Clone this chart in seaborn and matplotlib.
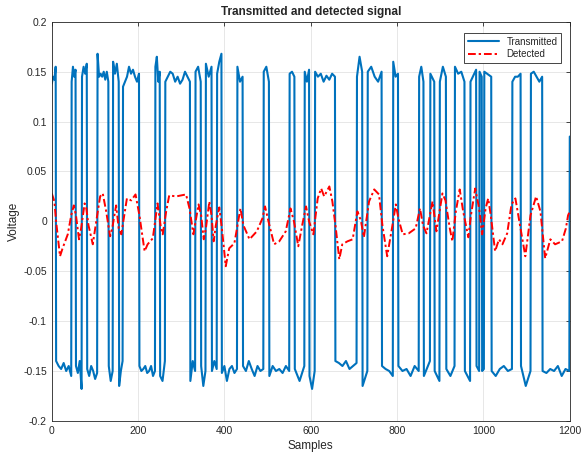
import numpy as np
import pandas as pd
import matplotlib
matplotlib.use('Agg')
import matplotlib.pyplot as plt
import seaborn as sns

# Transmitted signal: segment edges (samples), alternating high / low, starting high
seg_edges = [0, 10, 46, 56, 70, 82, 106, 132, 142, 156,
             165, 203, 240, 251, 263, 321, 333, 346, 357, 371,
             383, 394, 430, 443, 491, 504, 551, 563, 586, 597,
             610, 657, 707, 720, 732, 765, 791, 803, 851, 862,
             877, 887, 899, 914, 934, 957, 970, 984, 991, 997,
             1002, 1019, 1067, 1087, 1110, 1137, 1200]

# voltage readings inside each segment
seg_levels = [
    [0.138, 0.145, 0.142, 0.155],
    [-0.14, -0.145, -0.148, -0.142, -0.15, -0.145, -0.155],
    [0.14, 0.155, 0.145, 0.152],
    [-0.145, -0.152, -0.14, -0.168],
    [0.145, 0.155, 0.148, 0.158],
    [-0.148, -0.155, -0.145, -0.15, -0.158, -0.152],
    [0.168, 0.145, 0.148, 0.145, 0.15, 0.142, 0.15, 0.14],
    [-0.145, -0.16, -0.15],
    [0.16, 0.148, 0.158, 0.14],
    [-0.165, -0.15, -0.14],
    [0.135, 0.14, 0.145, 0.155, 0.148, 0.152, 0.145, 0.14, 0.148],
    [-0.145, -0.15, -0.148, -0.145, -0.152, -0.15, -0.145, -0.155, -0.15],
    [0.155, 0.165, 0.14, 0.15],
    [-0.155, -0.16, -0.14],
    [0.14, 0.145, 0.15, 0.148, 0.14, 0.145, 0.138, 0.142, 0.15, 0.145, 0.14],
    [-0.16, -0.14, -0.15],
    [0.15, 0.155, 0.14],
    [-0.145, -0.165, -0.15],
    [0.158, 0.145, 0.155],
    [-0.15, -0.14, -0.148],
    [0.148, 0.16, 0.168],
    [-0.152, -0.145, -0.16, -0.148, -0.145, -0.152, -0.148],
    [0.155, 0.14, 0.145],
    [-0.145, -0.15, -0.14, -0.148, -0.155, -0.145, -0.15, -0.148],
    [0.15, 0.155, 0.14],
    [-0.155, -0.145, -0.15, -0.148, -0.152, -0.145, -0.15],
    [0.148, 0.15, 0.145],
    [-0.148, -0.16, -0.145],
    [0.15, 0.14, 0.152],
    [-0.155, -0.168, -0.15],
    [0.15, 0.145, 0.148, 0.14, 0.146, 0.142, 0.148, 0.145],
    [-0.14, -0.142, -0.145, -0.14, -0.148, -0.145, -0.142],
    [0.145, 0.165, 0.15],
    [-0.165, -0.15],
    [0.15, 0.155, 0.145, 0.14, 0.15],
    [-0.145, -0.148, -0.15, -0.155],
    [0.16, 0.145, 0.148],
    [-0.145, -0.15, -0.148, -0.155, -0.145, -0.15],
    [0.145, 0.155, 0.14],
    [-0.155, -0.14],
    [0.148, 0.14],
    [-0.15, -0.16],
    [0.14, 0.155, 0.145],
    [-0.148, -0.155, -0.145],
    [0.155, 0.148, 0.15, 0.14],
    [-0.15, -0.16],
    [0.14, 0.152],
    [-0.145, -0.15],
    [0.15, 0.145],
    [-0.15, -0.148],
    [0.15, 0.145],
    [-0.15, -0.155, -0.148, -0.145, -0.15, -0.148],
    [0.14, 0.145, 0.145, 0.148],
    [-0.145, -0.165, -0.15],
    [0.148, 0.15, 0.145, 0.14, 0.145],
    [-0.15, -0.152, -0.148, -0.15, -0.145, -0.155, -0.148, -0.15],
]
last_value = 0.085  # final rising edge at sample 1200

# Detected signal (sample, voltage)
det_x = [0, 6, 10, 19, 25, 37, 45, 51, 56, 63, 68, 76, 80, 85, 95, 103, 112, 118,
         126, 135, 140, 149, 155, 161, 174, 184, 194, 203, 215, 222, 234, 245, 253,
         257, 265, 272, 288, 311, 319, 328, 340, 346, 352, 357, 365, 370, 375, 380,
         388, 394, 403, 411, 423, 437, 444, 458, 475, 488, 494, 502, 515, 527, 542,
         553, 561, 571, 580, 589, 596, 606, 616, 624, 631, 643, 650, 658, 666, 673,
         685, 697, 708, 716, 723, 735, 747, 758, 766, 777, 788, 797, 803, 813, 827,
         843, 853, 860, 868, 882, 891, 905, 912, 922, 928, 936, 945, 953, 965, 971,
         981, 990, 997, 1005, 1011, 1017, 1027, 1036, 1044, 1055, 1065, 1074, 1086,
         1097, 1109, 1122, 1132, 1143, 1155, 1166, 1182, 1191, 1196, 1200]
det_y = [0.028, 0.02, 0.0, -0.035, -0.027, -0.013, 0.006, 0.016, 0.006, -0.018,
         -0.007, 0.018, 0.013, -0.004, -0.023, 0.0, 0.025, 0.028, 0.01, -0.015,
         -0.007, 0.016, -0.007, -0.013, 0.023, 0.021, 0.027, 0.006, -0.03, -0.023,
         -0.017, 0.018, -0.007, -0.013, 0.01, 0.026, 0.025, 0.027, 0.013, -0.013,
         0.017, 0.006, -0.018, -0.007, 0.02, 0.006, -0.02, -0.004, 0.014, -0.007,
         -0.045, -0.027, -0.022, 0.013, -0.004, -0.018, -0.01, 0.003, 0.015, 0.0,
         -0.023, -0.02, -0.01, 0.013, 0.0, -0.025, -0.004, 0.015, 0.0, -0.013,
         0.023, 0.033, 0.025, 0.035, 0.02, -0.007, -0.038, -0.023, -0.02, -0.018,
         0.01, 0.001, -0.016, 0.02, 0.032, 0.027, -0.004, -0.035, -0.007, 0.017,
         0.003, -0.013, -0.012, -0.007, 0.013, -0.004, -0.012, 0.02, -0.01, 0.028,
         0.021, -0.007, -0.02, 0.01, 0.032, 0.01, -0.016, 0.006, 0.033, 0.013,
         -0.013, 0.013, 0.023, 0.006, -0.03, -0.018, -0.023, -0.012, 0.017, 0.023,
         -0.007, -0.035, 0.006, 0.025, 0.01, -0.037, -0.018, -0.023, -0.02, -0.007,
         0.006, 0.01]

yticks = [-0.2, -0.15, -0.1, -0.05, 0, 0.05, 0.1, 0.15, 0.2]
ytick_labels = ['-0.2', '-0.15', '-0.1', '-0.05', '0', '0.05', '0.1', '0.15', '0.2']
xticks = [0, 200, 400, 600, 800, 1000, 1200]

# build transmitted trace from the segments
tx_x, tx_y = [], []
for i, lv in enumerate(seg_levels):
    a, b = seg_edges[i], seg_edges[i + 1] - 1
    if len(lv) == 1:
        lv = lv * 2
    tx_x.extend(np.linspace(a, b, len(lv)))
    tx_y.extend(lv)
tx_x.append(seg_edges[-1])
tx_y.append(last_value)
tx = pd.DataFrame({'Samples': tx_x, 'Voltage': tx_y})
det = pd.DataFrame({'Samples': det_x, 'Voltage': det_y})

sns.set_style('white')
plt.rcParams['font.family'] = ['Liberation Sans', 'DejaVu Sans']

fig = plt.figure(figsize=(5.82, 4.55), dpi=100)
ax = fig.add_axes([0.089, 0.075, 0.89, 0.877])

sns.lineplot(data=tx, x='Samples', y='Voltage', ax=ax, color='#0072BD',
             linewidth=1.5, sort=False, estimator=None, label='Transmitted')
sns.lineplot(data=det, x='Samples', y='Voltage', ax=ax, color='#FF0000',
             linewidth=1.4, linestyle='-.', sort=False, estimator=None,
             label='Detected')
ax.lines[1].set_dashes([4, 1.5, 1.2, 1.5])

ax.set_xlim(0, 1200)
ax.set_ylim(-0.2, 0.2)
ax.set_xticks(xticks)
ax.set_yticks(yticks)
ax.set_yticklabels(ytick_labels)
ax.grid(True, color='#e3e3e3', linewidth=0.6)
ax.tick_params(direction='in', length=3, width=0.6, labelsize=7.5,
               colors='#262626', top=True, right=True)
for s in ax.spines.values():
    s.set_color('#262626')
    s.set_linewidth(0.6)

ax.set_xlabel('Samples', fontsize=8.5, color='#262626', labelpad=3)
ax.set_ylabel('Voltage', fontsize=8.5, color='#262626', labelpad=2)
ax.set_title('Transmitted and detected signal', fontsize=8.5,
             fontweight='bold', pad=5)

leg = ax.legend(loc='upper right', fontsize=7, fancybox=False, framealpha=1,
                edgecolor='#262626', handlelength=3.2, borderpad=0.4,
                labelspacing=0.3, bbox_to_anchor=(0.993, 0.985))
leg.get_frame().set_linewidth(0.6)

fig.savefig('out.png', dpi=100)
